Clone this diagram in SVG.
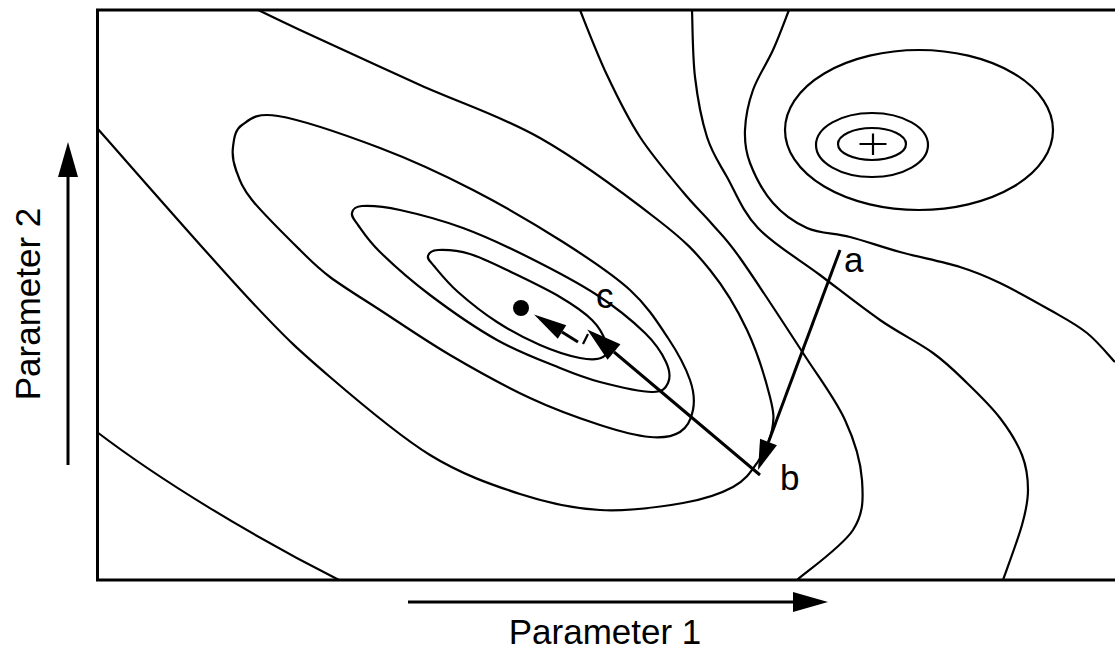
<svg xmlns="http://www.w3.org/2000/svg" width="1115" height="649" viewBox="0 0 1115 649">
<style>
.frame{fill:none;stroke:#000;stroke-width:3}
.ct{fill:none;stroke:#000;stroke-width:2.2}
.arr{fill:none;stroke:#000;stroke-width:3}
.lbl{font-family:"Liberation Sans",Arial,Helvetica,sans-serif;font-size:35px;fill:#000}
</style>
<defs>
<marker id="head-lg" markerUnits="userSpaceOnUse" markerWidth="35" markerHeight="20" refX="0" refY="10" orient="auto" overflow="visible"><path d="M0,0 L35,10 L0,20 Z" fill="#000"/></marker>
<marker id="head-md" markerUnits="userSpaceOnUse" markerWidth="30" markerHeight="18" refX="0" refY="9" orient="auto" overflow="visible"><path d="M0,0 L30,9 L0,18 Z" fill="#000"/></marker>
<marker id="head-sm" markerUnits="userSpaceOnUse" markerWidth="33" markerHeight="16" refX="0" refY="8" orient="auto" overflow="visible"><path d="M0,0 L33,8 L0,16 Z" fill="#000"/></marker>
</defs>
<rect width="1115" height="649" fill="#fff"/>
<g id="frame"><path class="frame" d="M1116,10 H97.5 V580 H1116"/></g>
<g id="contours">
<path id="contour-inner" class="ct" d="M428,256 C428.7,253.3 431,250.3 438,250 C445,249.7 457.5,250.2 470,254 C482.5,257.8 498,265.8 513,273 C528,280.2 546.8,289.2 560,297 C573.2,304.8 584.3,312.3 592,320 C599.7,327.7 604.2,336.8 606,343 C607.8,349.2 607.3,354.5 603,357 C598.7,359.5 590.5,360 580,358 C569.5,356 553.8,351 540,345 C526.2,339 510.7,330.8 497,322 C483.3,313.2 468.5,301.3 458,292 C447.5,282.7 439,272 434,266 C429,260 427.3,258.7 428,256 Z"/>
<path id="contour-second" class="ct" d="M352,213 C352.7,209.8 354,206.5 362,206 C370,205.5 383.2,206.3 400,210 C416.8,213.7 441.3,220 463,228 C484.7,236 507.7,246.8 530,258 C552.3,269.2 577.8,282.5 597,295 C616.2,307.5 633.5,321.8 645,333 C656.5,344.2 662.2,353.7 666,362 C669.8,370.3 670.3,378 668,383 C665.7,388 663.3,392.2 652,392 C640.7,391.8 615.3,386 600,382 C584.7,378 577.2,375 560,368 C542.8,361 518.7,352.2 497,340 C475.3,327.8 449.5,309.7 430,295 C410.5,280.3 392,263.7 380,252 C368,240.3 362.7,231.5 358,225 C353.3,218.5 351.3,216.2 352,213 Z"/>
<path id="contour-third" class="ct" d="M233,147 C234,139.5 234.5,130.2 242,125 C249.5,119.8 255,112.2 278,116 C301,119.8 347.5,135.7 380,148 C412.5,160.3 442.5,174.3 473,190 C503.5,205.7 536.8,225.3 563,242 C589.2,258.7 612.5,274 630,290 C647.5,306 658,323 668,338 C678,353 685.8,368 690,380 C694.2,392 694.7,401.3 693,410 C691.3,418.7 687.2,427.5 680,432 C672.8,436.5 663.3,438.2 650,437 C636.7,435.8 620,431.5 600,425 C580,418.5 555,409.7 530,398 C505,386.3 475,369.7 450,355 C425,340.3 400,323 380,310 C360,297 343.3,287 330,277 C316.7,267 313,262.8 300,250 C287,237.2 262.7,213.3 252,200 C241.3,186.7 239.2,178.8 236,170 C232.8,161.2 232,154.5 233,147 Z"/>
<path id="contour-u" class="ct" d="M258,10 C265,13.3 273,17.5 300,30 C327,42.5 380,67 420,85 C460,103 500.3,115.5 540,138 C579.7,160.5 629.7,198 658,220 C686.3,242 695.2,251.7 710,270 C724.8,288.3 737,308.8 747,330 C757,351.2 765.8,380.3 770,397 C774.2,413.7 774.2,419 772,430 C769.8,441 763.5,453.5 757,463 C750.5,472.5 745.3,480.3 733,487 C720.7,493.7 705.2,499.2 683,503 C660.8,506.8 627.2,511.5 600,510 C572.8,508.5 548.3,503.2 520,494 C491.7,484.8 461.7,474.5 430,455 C398.3,435.5 360,402.8 330,377 C300,351.2 288.8,341.5 250,300 C211.2,258.5 122.5,156.7 97,128"/>
<path id="contour-bl" class="ct" d="M97,432 C160,480 250,535 339,580"/>
<path id="contour-e" class="ct" d="M580,10 C584.5,21.2 597,53.8 607,75 C617,96.2 627.3,117.5 640,137 C652.7,156.5 671,177.5 683,192 C695,206.5 702.5,213 712,224 C721.5,235 724.8,236.5 740,258 C755.2,279.5 785.5,326 803,353 C820.5,380 835.2,398.8 845,420 C854.8,441.2 860.7,461.7 862,480 C863.3,498.3 863.8,513.3 853,530 C842.2,546.7 806.3,571.7 797,580"/>
<path id="contour-f" class="ct" d="M692,10 C692.5,21.2 692.5,55.8 695,77 C697.5,98.2 701.7,120.3 707,137 C712.3,153.7 718.5,161.8 727,177 C735.5,192.2 742.5,211.7 758,228 C773.5,244.3 799.7,259.7 820,275 C840.3,290.3 861.2,307 880,320 C898.8,333 918.5,342.5 933,353 C947.5,363.5 955.8,372.2 967,383 C978.2,393.8 990.8,406 1000,418 C1009.2,430 1017.3,443 1022,455 C1026.7,467 1028,478.3 1028,490 C1028,501.7 1026.2,510 1022,525 C1017.8,540 1006.2,570.8 1003,580"/>
<path id="contour-g" class="ct" d="M789,10 C786.3,16.7 779,36.7 773,50 C767,63.3 757.7,76.7 753,90 C748.3,103.3 745.5,117.8 745,130 C744.5,142.2 745.3,150.8 750,163 C754.7,175.2 763.5,192.2 773,203 C782.5,213.8 794.2,222.3 807,228 C819.8,233.7 834.5,233 850,237 C865.5,241 881.7,247 900,252 C918.3,257 943.3,261.8 960,267 C976.7,272.2 985,275.8 1000,283 C1015,290.2 1035.5,301.7 1050,310 C1064.5,318.3 1076.2,324.3 1087,333 C1097.8,341.7 1110.3,357.2 1115,362"/>
</g>
<g id="maximum">
<ellipse class="ct" cx="919" cy="130" rx="134" ry="80"/>
<ellipse class="ct" cx="872" cy="145" rx="56" ry="32"/>
<ellipse class="ct" cx="872" cy="144" rx="34" ry="16"/>
<path class="ct" d="M859.5,144 H886.5 M873,133.5 V155"/>
</g>
<g id="minimum"><circle cx="521" cy="308" r="8" fill="#000"/></g>
<g id="connectors">
<line id="arrow-ab" class="arr" x1="840" y1="250" x2="768.5" y2="442" marker-end="url(#head-md)"/>
<line id="arrow-bc" class="arr" x1="760" y1="475" x2="614" y2="352" marker-end="url(#head-lg)"/>
<line id="arrow-c" class="arr" x1="578" y1="342" x2="562" y2="332" marker-end="url(#head-sm)"/>
<line class="ct" x1="583" y1="344" x2="588" y2="334"/>
<line id="axis-x" class="arr" x1="408" y1="602" x2="793" y2="602" marker-end="url(#head-lg)"/>
<line id="axis-y" class="arr" x1="68" y1="465" x2="68" y2="177" marker-end="url(#head-lg)"/>
</g>
<g id="labels">
<text class="lbl" x="844" y="272">a</text>
<text class="lbl" x="780" y="490">b</text>
<text class="lbl" x="596" y="308">c</text>
<text class="lbl" x="605" y="644" text-anchor="middle">Parameter 1</text>
<text class="lbl" transform="translate(40,304) rotate(-90)" text-anchor="middle">Parameter 2</text>
</g>
</svg>
